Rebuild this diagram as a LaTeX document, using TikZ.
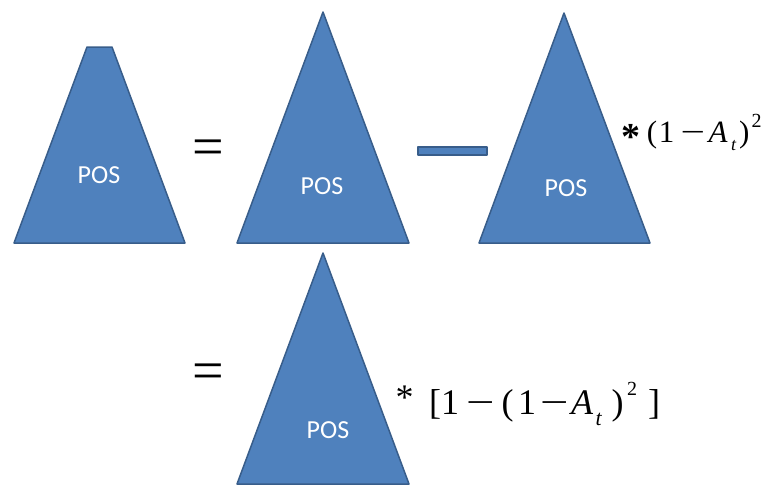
\documentclass[tikz,border=0pt]{standalone}
\usepackage{fontspec}
\usepackage{graphicx}
\setmainfont{Liberation Serif}
\newfontfamily\posfont{Carlito}
\usetikzlibrary{positioning}
\definecolor{posfill}{HTML}{4F81BD}
\definecolor{posline}{HTML}{385D8A}
% one glyph in a box of given width (pt)
\newcommand{\gl}[2]{\makebox[#1pt][l]{#2}}
\newcommand{\sz}[1]{\fontsize{#1}{#1}\selectfont}
\newcommand{\wminus}{\scalebox{1.4}[1]{−}}
\tikzset{
  pyramid/.style={fill=posfill,draw=posline,line width=1.5pt,line join=round},
  poslabel/.style={font=\posfont\fontsize{26}{30}\selectfont,text=white,inner sep=0pt},
  eqsign/.style={font=\fontsize{56}{60}\selectfont,inner sep=0pt,anchor=base},
  formula/.style={inner sep=0pt,anchor=base west},
}
\begin{document}
\begin{tikzpicture}[x=1pt,y=-1pt]
  \useasboundingbox (0,0) rectangle (773,485);
  \clip (0,0) rectangle (773,485);

  % Truncated pyramid
  \draw[pyramid] (87,47) -- (112,47) -- (185,243) -- (14,243) -- cycle;
  \node[poslabel] (trunc) at (99,175) {POS};

  \node[eqsign] (eqtop) at (208,165) {=};

  % Full pyramid
  \draw[pyramid] (323,12) -- (409,243) -- (237,243) -- cycle;
  \node[poslabel] (full) at (322,186) {POS};

  % Minus bar
  \draw[pyramid] (418,147) rectangle (487,155);

  % Pyramid times (1-A_t)^2
  \draw[pyramid] (564,13) -- (650,243) -- (479,243) -- cycle;
  \node[poslabel] (cut) at (566,188) {POS};
  \node[formula,font=\sz{31}] (factor) at (621.5,142)
    {\gl{25.1}{\raisebox{-7pt}{\sz{38}\bfseries *}}\gl{12.2}{(}\gl{21.5}{1}\gl{28}{\wminus}%
     \gl{22.5}{\itshape A}\gl{8}{\raisebox{-8.7pt}{\sz{18}\itshape t}}\gl{12.5}{)}%
     \raisebox{15pt}{\sz{20}2}};

  % Second line
  \node[eqsign] (eqbot) at (208,389) {=};
  \draw[pyramid] (323,253) -- (409,484) -- (237,484) -- cycle;
  \node[poslabel] (result) at (328,430) {POS};
  \node[formula,font=\sz{36}] (gain) at (395.5,414)
    {\gl{33.5}{\raisebox{5pt}{*}}\gl{12}{[}\gl{25}{1}\gl{35.4}{\wminus}\gl{16.6}{(}\gl{22}{1}%
     \gl{31}{\wminus}\gl{24.5}{\itshape A}\gl{16}{\raisebox{-11pt}{\sz{22}\itshape t}}%
     \gl{15.5}{)}\gl{21}{\raisebox{19pt}{\sz{20}2}}]};
\end{tikzpicture}
\end{document}
